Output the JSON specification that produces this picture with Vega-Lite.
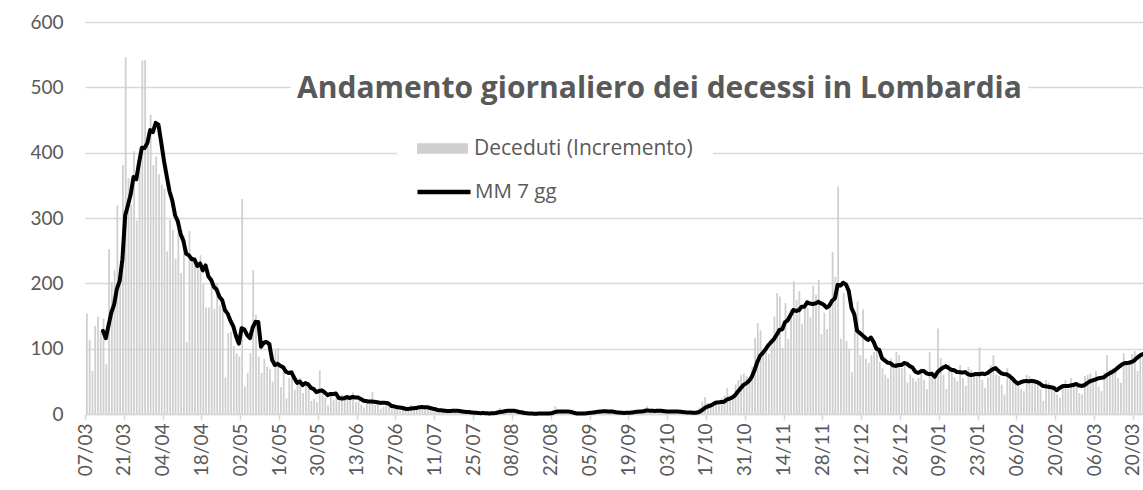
{
  "$schema": "https://vega.github.io/schema/vega-lite/v6.json",
  "autosize": "none",
  "width": 1059,
  "height": 392,
  "padding": {"left": 85, "top": 22, "right": 0, "bottom": 76},
  "background": "#ffffff",
  "config": {
    "view": {"stroke": null},
    "font": "Lato",
    "axis": {"labelFont": "Lato", "labelColor": "#595959", "labelFontSize": 19, "title": null}
  },
  "data": {"values": [
    {"d":"2020-03-07","v":154},{"d":"2020-03-08","v":113},{"d":"2020-03-09","v":66},{"d":"2020-03-10","v":135},{"d":"2020-03-11","v":149},{"d":"2020-03-12","v":127},
    {"d":"2020-03-13","v":146,"m":127.1},{"d":"2020-03-14","v":76,"m":116.0},{"d":"2020-03-15","v":252,"m":135.9},{"d":"2020-03-16","v":202,"m":155.3},{"d":"2020-03-17","v":220,"m":167.4},{"d":"2020-03-18","v":319,"m":191.7},{"d":"2020-03-19","v":209,"m":203.4},{"d":"2020-03-20","v":381,"m":237.0},{"d":"2020-03-21","v":546,"m":304.1},{"d":"2020-03-22","v":361,"m":319.7},{"d":"2020-03-23","v":320,"m":336.6},{"d":"2020-03-24","v":402,"m":362.6},{"d":"2020-03-25","v":296,"m":359.3},{"d":"2020-03-26","v":387,"m":384.7},{"d":"2020-03-27","v":541,"m":407.6},{"d":"2020-03-28","v":542,"m":407.0},{"d":"2020-03-29","v":416,"m":414.9},{"d":"2020-03-30","v":458,"m":434.6},{"d":"2020-03-31","v":381,"m":431.6},
    {"d":"2020-04-01","v":394,"m":445.6},{"d":"2020-04-02","v":367,"m":442.7},{"d":"2020-04-03","v":351,"m":415.6},{"d":"2020-04-04","v":345,"m":387.4},{"d":"2020-04-05","v":249,"m":363.6},{"d":"2020-04-06","v":297,"m":340.6},{"d":"2020-04-07","v":282,"m":326.4},{"d":"2020-04-08","v":238,"m":304.1},{"d":"2020-04-09","v":300,"m":294.6},{"d":"2020-04-10","v":216,"m":275.3},{"d":"2020-04-11","v":273,"m":265.0},{"d":"2020-04-12","v":110,"m":245.1},{"d":"2020-04-13","v":280,"m":242.7},{"d":"2020-04-14","v":241,"m":236.9},{"d":"2020-04-15","v":235,"m":236.4},{"d":"2020-04-16","v":231,"m":226.6},{"d":"2020-04-17","v":243,"m":230.4},{"d":"2020-04-18","v":199,"m":219.9},{"d":"2020-04-19","v":163,"m":227.4},{"d":"2020-04-20","v":163,"m":210.7},{"d":"2020-04-21","v":203,"m":205.3},{"d":"2020-04-22","v":161,"m":194.7},{"d":"2020-04-23","v":200,"m":190.3},{"d":"2020-04-24","v":166,"m":179.3},{"d":"2020-04-25","v":163,"m":174.1},{"d":"2020-04-26","v":56,"m":158.9},{"d":"2020-04-27","v":124,"m":153.3},{"d":"2020-04-28","v":126,"m":142.3},{"d":"2020-04-29","v":104,"m":134.1},{"d":"2020-04-30","v":93,"m":118.9},
    {"d":"2020-05-01","v":88,"m":107.7},{"d":"2020-05-02","v":329,"m":131.4},{"d":"2020-05-03","v":42,"m":129.4},{"d":"2020-05-04","v":63,"m":120.7},{"d":"2020-05-05","v":93,"m":116.0},{"d":"2020-05-06","v":220,"m":132.6},{"d":"2020-05-07","v":152,"m":141.0},{"d":"2020-05-08","v":88,"m":141.0},{"d":"2020-05-09","v":63,"m":103.0},{"d":"2020-05-10","v":84,"m":109.0},{"d":"2020-05-11","v":72,"m":110.3},{"d":"2020-05-12","v":69,"m":106.9},{"d":"2020-05-13","v":50,"m":82.6},{"d":"2020-05-14","v":98,"m":74.9},{"d":"2020-05-15","v":101,"m":76.7},{"d":"2020-05-16","v":41,"m":73.6},{"d":"2020-05-17","v":70,"m":71.6},{"d":"2020-05-18","v":24,"m":64.7},{"d":"2020-05-19","v":55,"m":62.7},{"d":"2020-05-20","v":57,"m":63.7},{"d":"2020-05-21","v":37,"m":55.0},{"d":"2020-05-22","v":50,"m":47.7},{"d":"2020-05-23","v":55,"m":49.7},{"d":"2020-05-24","v":32,"m":44.3},{"d":"2020-05-25","v":46,"m":47.4},{"d":"2020-05-26","v":41,"m":45.4},{"d":"2020-05-27","v":20,"m":40.1},{"d":"2020-05-28","v":23,"m":38.1},{"d":"2020-05-29","v":18,"m":33.6},{"d":"2020-05-30","v":67,"m":35.3},{"d":"2020-05-31","v":37,"m":36.0},
    {"d":"2020-06-01","v":25,"m":33.0},{"d":"2020-06-02","v":13,"m":29.0},{"d":"2020-06-03","v":32,"m":30.7},{"d":"2020-06-04","v":21,"m":30.4},{"d":"2020-06-05","v":24,"m":31.3},{"d":"2020-06-06","v":20,"m":24.6},{"d":"2020-06-07","v":30,"m":23.6},{"d":"2020-06-08","v":28,"m":24.0},{"d":"2020-06-09","v":26,"m":25.9},{"d":"2020-06-10","v":22,"m":24.4},{"d":"2020-06-11","v":33,"m":26.1},{"d":"2020-06-12","v":18,"m":25.3},{"d":"2020-06-13","v":20,"m":25.3},{"d":"2020-06-14","v":14,"m":23.0},{"d":"2020-06-15","v":10,"m":20.4},{"d":"2020-06-16","v":21,"m":19.7},{"d":"2020-06-17","v":17,"m":19.0},{"d":"2020-06-18","v":34,"m":19.1},{"d":"2020-06-19","v":14,"m":18.6},{"d":"2020-06-20","v":15,"m":17.9},{"d":"2020-06-21","v":8,"m":17.0},{"d":"2020-06-22","v":11,"m":17.1},{"d":"2020-06-23","v":20,"m":17.0},{"d":"2020-06-24","v":10,"m":16.0},{"d":"2020-06-25","v":8,"m":12.3},{"d":"2020-06-26","v":9,"m":11.6},{"d":"2020-06-27","v":7,"m":10.4},{"d":"2020-06-28","v":5,"m":10.0},{"d":"2020-06-29","v":6,"m":9.3},{"d":"2020-06-30","v":11,"m":8.0},
    {"d":"2020-07-01","v":7,"m":7.6},{"d":"2020-07-02","v":14,"m":8.4},{"d":"2020-07-03","v":12,"m":8.9},{"d":"2020-07-04","v":9,"m":9.1},{"d":"2020-07-05","v":13,"m":10.3},{"d":"2020-07-06","v":8,"m":10.6},{"d":"2020-07-07","v":10,"m":10.4},{"d":"2020-07-08","v":7,"m":10.4},{"d":"2020-07-09","v":5,"m":9.1},{"d":"2020-07-10","v":4,"m":8.0},{"d":"2020-07-11","v":3,"m":7.1},{"d":"2020-07-12","v":2,"m":5.6},{"d":"2020-07-13","v":8,"m":5.6},{"d":"2020-07-14","v":6,"m":5.0},{"d":"2020-07-15","v":5,"m":4.7},{"d":"2020-07-16","v":4,"m":4.6},{"d":"2020-07-17","v":6,"m":4.9},{"d":"2020-07-18","v":3,"m":4.9},{"d":"2020-07-19","v":2,"m":4.9},{"d":"2020-07-20","v":4,"m":4.3},{"d":"2020-07-21","v":1,"m":3.6},{"d":"2020-07-22","v":2,"m":3.1},{"d":"2020-07-23","v":3,"m":3.0},{"d":"2020-07-24","v":1,"m":2.3},{"d":"2020-07-25","v":0,"m":1.9},{"d":"2020-07-26","v":1,"m":1.7},{"d":"2020-07-27","v":1,"m":1.3},{"d":"2020-07-28","v":2,"m":1.4},{"d":"2020-07-29","v":1,"m":1.3},{"d":"2020-07-30","v":0,"m":0.9},{"d":"2020-07-31","v":2,"m":1.0},
    {"d":"2020-08-01","v":1,"m":1.1},{"d":"2020-08-02","v":6,"m":1.9},{"d":"2020-08-03","v":9,"m":3.0},{"d":"2020-08-04","v":5,"m":3.4},{"d":"2020-08-05","v":7,"m":4.3},{"d":"2020-08-06","v":4,"m":4.9},{"d":"2020-08-07","v":3,"m":5.0},{"d":"2020-08-08","v":2,"m":5.1},{"d":"2020-08-09","v":1,"m":4.4},{"d":"2020-08-10","v":0,"m":3.1},{"d":"2020-08-11","v":1,"m":2.6},{"d":"2020-08-12","v":0,"m":1.6},{"d":"2020-08-13","v":1,"m":1.1},{"d":"2020-08-14","v":0,"m":0.7},{"d":"2020-08-15","v":1,"m":0.6},{"d":"2020-08-16","v":0,"m":0.4},{"d":"2020-08-17","v":1,"m":0.6},{"d":"2020-08-18","v":1,"m":0.6},{"d":"2020-08-19","v":0,"m":0.6},{"d":"2020-08-20","v":2,"m":0.7},{"d":"2020-08-21","v":1,"m":0.9},{"d":"2020-08-22","v":4,"m":1.3},{"d":"2020-08-23","v":12,"m":3.0},{"d":"2020-08-24","v":6,"m":3.7},{"d":"2020-08-25","v":2,"m":3.9},{"d":"2020-08-26","v":1,"m":4.0},{"d":"2020-08-27","v":0,"m":3.7},{"d":"2020-08-28","v":1,"m":3.7},{"d":"2020-08-29","v":0,"m":3.1},{"d":"2020-08-30","v":1,"m":1.6},{"d":"2020-08-31","v":0,"m":0.7},
    {"d":"2020-09-01","v":1,"m":0.6},{"d":"2020-09-02","v":2,"m":0.7},{"d":"2020-09-03","v":1,"m":0.9},{"d":"2020-09-04","v":5,"m":1.4},{"d":"2020-09-05","v":4,"m":2.0},{"d":"2020-09-06","v":3,"m":2.3},{"d":"2020-09-07","v":6,"m":3.1},{"d":"2020-09-08","v":4,"m":3.6},{"d":"2020-09-09","v":5,"m":4.0},{"d":"2020-09-10","v":3,"m":4.3},{"d":"2020-09-11","v":2,"m":3.9},{"d":"2020-09-12","v":4,"m":3.9},{"d":"2020-09-13","v":1,"m":3.6},{"d":"2020-09-14","v":0,"m":2.7},{"d":"2020-09-15","v":1,"m":2.3},{"d":"2020-09-16","v":2,"m":1.9},{"d":"2020-09-17","v":1,"m":1.6},{"d":"2020-09-18","v":4,"m":1.9},{"d":"2020-09-19","v":5,"m":2.0},{"d":"2020-09-20","v":3,"m":2.3},{"d":"2020-09-21","v":6,"m":3.1},{"d":"2020-09-22","v":4,"m":3.6},{"d":"2020-09-23","v":3,"m":3.7},{"d":"2020-09-24","v":5,"m":4.3},{"d":"2020-09-25","v":12,"m":5.4},{"d":"2020-09-26","v":3,"m":5.1},{"d":"2020-09-27","v":2,"m":5.0},{"d":"2020-09-28","v":4,"m":4.7},{"d":"2020-09-29","v":5,"m":4.9},{"d":"2020-09-30","v":3,"m":4.9},
    {"d":"2020-10-01","v":4,"m":4.7},{"d":"2020-10-02","v":6,"m":3.9},{"d":"2020-10-03","v":3,"m":3.9},{"d":"2020-10-04","v":2,"m":3.9},{"d":"2020-10-05","v":5,"m":4.0},{"d":"2020-10-06","v":3,"m":3.7},{"d":"2020-10-07","v":2,"m":3.6},{"d":"2020-10-08","v":1,"m":3.1},{"d":"2020-10-09","v":2,"m":2.6},{"d":"2020-10-10","v":1,"m":2.3},{"d":"2020-10-11","v":2,"m":2.3},{"d":"2020-10-12","v":1,"m":1.7},{"d":"2020-10-13","v":4,"m":1.9},{"d":"2020-10-14","v":10,"m":3.0},{"d":"2020-10-15","v":19,"m":5.6},{"d":"2020-10-16","v":26,"m":9.0},{"d":"2020-10-17","v":17,"m":11.3},{"d":"2020-10-18","v":12,"m":12.7},{"d":"2020-10-19","v":16,"m":14.9},{"d":"2020-10-20","v":21,"m":17.3},{"d":"2020-10-21","v":13,"m":17.7},{"d":"2020-10-22","v":24,"m":18.4},{"d":"2020-10-23","v":28,"m":18.7},{"d":"2020-10-24","v":40,"m":22.0},{"d":"2020-10-25","v":22,"m":23.4},{"d":"2020-10-26","v":29,"m":25.3},{"d":"2020-10-27","v":45,"m":28.7},{"d":"2020-10-28","v":52,"m":34.3},{"d":"2020-10-29","v":60,"m":39.4},{"d":"2020-10-30","v":62,"m":44.3},{"d":"2020-10-31","v":58,"m":46.9},
    {"d":"2020-11-01","v":48,"m":50.6},{"d":"2020-11-02","v":72,"m":56.7},{"d":"2020-11-03","v":116,"m":66.9},{"d":"2020-11-04","v":139,"m":79.3},{"d":"2020-11-05","v":128,"m":89.0},{"d":"2020-11-06","v":95,"m":93.7},{"d":"2020-11-07","v":95,"m":99.0},{"d":"2020-11-08","v":92,"m":105.3},{"d":"2020-11-09","v":105,"m":110.0},{"d":"2020-11-10","v":149,"m":114.7},{"d":"2020-11-11","v":185,"m":121.3},{"d":"2020-11-12","v":180,"m":128.7},{"d":"2020-11-13","v":101,"m":129.6},{"d":"2020-11-14","v":170,"m":140.3},{"d":"2020-11-15","v":115,"m":143.6},{"d":"2020-11-16","v":160,"m":151.4},{"d":"2020-11-17","v":203,"m":159.1},{"d":"2020-11-18","v":175,"m":157.7},{"d":"2020-11-19","v":188,"m":158.9},{"d":"2020-11-20","v":138,"m":164.1},{"d":"2020-11-21","v":170,"m":164.1},{"d":"2020-11-22","v":162,"m":170.9},{"d":"2020-11-23","v":148,"m":169.1},{"d":"2020-11-24","v":196,"m":168.1},{"d":"2020-11-25","v":183,"m":169.3},{"d":"2020-11-26","v":205,"m":171.7},{"d":"2020-11-27","v":122,"m":169.4},{"d":"2020-11-28","v":155,"m":167.3},{"d":"2020-11-29","v":130,"m":162.7},{"d":"2020-11-30","v":170,"m":165.9},
    {"d":"2020-12-01","v":248,"m":173.3},{"d":"2020-12-02","v":210,"m":177.1},{"d":"2020-12-03","v":348,"m":197.6},{"d":"2020-12-04","v":115,"m":196.6},{"d":"2020-12-05","v":185,"m":200.9},{"d":"2020-12-06","v":112,"m":198.3},{"d":"2020-12-07","v":100,"m":188.3},{"d":"2020-12-08","v":64,"m":162.0},{"d":"2020-12-09","v":144,"m":152.6},{"d":"2020-12-10","v":172,"m":127.4},{"d":"2020-12-11","v":90,"m":123.9},{"d":"2020-12-12","v":160,"m":120.3},{"d":"2020-12-13","v":85,"m":116.4},{"d":"2020-12-14","v":78,"m":113.3},{"d":"2020-12-15","v":90,"m":117.0},{"d":"2020-12-16","v":95,"m":110.0},{"d":"2020-12-17","v":100,"m":99.7},{"d":"2020-12-18","v":80,"m":98.3},{"d":"2020-12-19","v":70,"m":85.4},{"d":"2020-12-20","v":60,"m":81.9},{"d":"2020-12-21","v":55,"m":78.6},{"d":"2020-12-22","v":85,"m":77.9},{"d":"2020-12-23","v":70,"m":74.3},{"d":"2020-12-24","v":95,"m":73.6},{"d":"2020-12-25","v":90,"m":75.0},{"d":"2020-12-26","v":70,"m":75.0},{"d":"2020-12-27","v":80,"m":77.9},{"d":"2020-12-28","v":48,"m":76.9},{"d":"2020-12-29","v":60,"m":73.3},{"d":"2020-12-30","v":55,"m":71.1},{"d":"2020-12-31","v":50,"m":64.7},
    {"d":"2021-01-01","v":55,"m":63.0},{"d":"2021-01-02","v":70,"m":65.3},{"d":"2021-01-03","v":52,"m":66.0},{"d":"2021-01-04","v":38,"m":62.4},{"d":"2021-01-05","v":95,"m":61.0},{"d":"2021-01-06","v":60,"m":61.6},{"d":"2021-01-07","v":57,"m":57.0},{"d":"2021-01-08","v":131,"m":64.0},{"d":"2021-01-09","v":86,"m":68.0},{"d":"2021-01-10","v":60,"m":71.0},{"d":"2021-01-11","v":38,"m":73.1},{"d":"2021-01-12","v":76,"m":70.4},{"d":"2021-01-13","v":70,"m":67.6},{"d":"2021-01-14","v":56,"m":67.0},{"d":"2021-01-15","v":50,"m":64.3},{"d":"2021-01-16","v":75,"m":64.0},{"d":"2021-01-17","v":55,"m":63.4},{"d":"2021-01-18","v":43,"m":64.1},{"d":"2021-01-19","v":72,"m":61.0},{"d":"2021-01-20","v":68,"m":59.6},{"d":"2021-01-21","v":64,"m":60.3},{"d":"2021-01-22","v":58,"m":61.4},{"d":"2021-01-23","v":102,"m":60.7},{"d":"2021-01-24","v":52,"m":61.9},{"d":"2021-01-25","v":40,"m":61.0},{"d":"2021-01-26","v":56,"m":62.7},{"d":"2021-01-27","v":75,"m":65.9},{"d":"2021-01-28","v":90,"m":68.6},{"d":"2021-01-29","v":60,"m":70.1},{"d":"2021-01-30","v":58,"m":66.0},{"d":"2021-01-31","v":45,"m":62.3},
    {"d":"2021-02-01","v":30,"m":61.1},{"d":"2021-02-02","v":70,"m":60.7},{"d":"2021-02-03","v":62,"m":58.0},{"d":"2021-02-04","v":55,"m":54.3},{"d":"2021-02-05","v":48,"m":49.7},{"d":"2021-02-06","v":42,"m":46.4},{"d":"2021-02-07","v":38,"m":48.6},{"d":"2021-02-08","v":35,"m":50.1},{"d":"2021-02-09","v":60,"m":50.4},{"d":"2021-02-10","v":58,"m":50.0},{"d":"2021-02-11","v":54,"m":50.6},{"d":"2021-02-12","v":51,"m":49.9},{"d":"2021-02-13","v":45,"m":48.7},{"d":"2021-02-14","v":38,"m":46.3},{"d":"2021-02-15","v":20,"m":43.0},{"d":"2021-02-16","v":52,"m":42.4},{"d":"2021-02-17","v":48,"m":41.6},{"d":"2021-02-18","v":42,"m":40.9},{"d":"2021-02-19","v":40,"m":40.0},{"d":"2021-02-20","v":30,"m":36.4},{"d":"2021-02-21","v":25,"m":39.7},{"d":"2021-02-22","v":45,"m":42.3},{"d":"2021-02-23","v":52,"m":43.0},{"d":"2021-02-24","v":38,"m":42.7},{"d":"2021-02-25","v":55,"m":43.6},{"d":"2021-02-26","v":48,"m":44.4},{"d":"2021-02-27","v":44,"m":45.9},{"d":"2021-02-28","v":32,"m":43.6},
    {"d":"2021-03-01","v":30,"m":43.0},{"d":"2021-03-02","v":58,"m":44.1},{"d":"2021-03-03","v":60,"m":47.3},{"d":"2021-03-04","v":62,"m":50.1},{"d":"2021-03-05","v":48,"m":51.4},{"d":"2021-03-06","v":66,"m":52.9},{"d":"2021-03-07","v":42,"m":54.6},{"d":"2021-03-08","v":35,"m":55.3},{"d":"2021-03-09","v":64,"m":56.1},{"d":"2021-03-10","v":90,"m":59.4},{"d":"2021-03-11","v":68,"m":62.0},{"d":"2021-03-12","v":70,"m":64.3},{"d":"2021-03-13","v":68,"m":67.0},{"d":"2021-03-14","v":55,"m":70.6},{"d":"2021-03-15","v":48,"m":74.0},{"d":"2021-03-16","v":93,"m":77.1},{"d":"2021-03-17","v":80,"m":78.0},{"d":"2021-03-18","v":75,"m":78.3},{"d":"2021-03-19","v":92,"m":79.6},{"d":"2021-03-20","v":96,"m":82.0},{"d":"2021-03-21","v":66,"m":86.0},{"d":"2021-03-22","v":93,"m":89.3},{"d":"2021-03-23","v":91,"m":91.6}
  ]},
  "layer": [
    {
      "mark": {"type": "bar", "timeUnitBandSize": 0.9},
      "encoding": {
        "x": {
          "field": "d", "type": "temporal", "timeUnit": "utcyearmonthdate",
          "scale": {"domain": [{"year": 2020, "month": 3, "date": 7, "utc": true}, {"year": 2021, "month": 3, "date": 24, "utc": true}]},
          "axis": {
            "values": [
              {"year": 2020, "month": 3, "date": 7, "utc": true}, {"year": 2020, "month": 3, "date": 21, "utc": true},
              {"year": 2020, "month": 4, "date": 4, "utc": true}, {"year": 2020, "month": 4, "date": 18, "utc": true},
              {"year": 2020, "month": 5, "date": 2, "utc": true}, {"year": 2020, "month": 5, "date": 16, "utc": true},
              {"year": 2020, "month": 5, "date": 30, "utc": true}, {"year": 2020, "month": 6, "date": 13, "utc": true},
              {"year": 2020, "month": 6, "date": 27, "utc": true}, {"year": 2020, "month": 7, "date": 11, "utc": true},
              {"year": 2020, "month": 7, "date": 25, "utc": true}, {"year": 2020, "month": 8, "date": 8, "utc": true},
              {"year": 2020, "month": 8, "date": 22, "utc": true}, {"year": 2020, "month": 9, "date": 5, "utc": true},
              {"year": 2020, "month": 9, "date": 19, "utc": true}, {"year": 2020, "month": 10, "date": 3, "utc": true},
              {"year": 2020, "month": 10, "date": 17, "utc": true}, {"year": 2020, "month": 10, "date": 31, "utc": true},
              {"year": 2020, "month": 11, "date": 14, "utc": true}, {"year": 2020, "month": 11, "date": 28, "utc": true},
              {"year": 2020, "month": 12, "date": 12, "utc": true}, {"year": 2020, "month": 12, "date": 26, "utc": true},
              {"year": 2021, "month": 1, "date": 9, "utc": true}, {"year": 2021, "month": 1, "date": 23, "utc": true},
              {"year": 2021, "month": 2, "date": 6, "utc": true}, {"year": 2021, "month": 2, "date": 20, "utc": true},
              {"year": 2021, "month": 3, "date": 6, "utc": true}, {"year": 2021, "month": 3, "date": 20, "utc": true}
            ],
            "tickCount": 60,
            "labelExpr": "utcFormat(datum.value, '%d/%m')",
            "labelAngle": 270, "labelAlign": "right", "labelBaseline": "middle", "labelPadding": 3,
            "labelFlush": false, "labelOverlap": false, "labelBound": false, "grid": false,
            "domainColor": "#d9d9d9", "domainWidth": 1.5,
            "tickColor": "#d9d9d9", "tickSize": 6, "tickWidth": 1.5,
            "title": null
          }
        },
        "y": {
          "field": "v", "type": "quantitative",
          "scale": {"domain": [0, 600], "nice": false},
          "axis": {
            "values": [0, 100, 200, 300, 400, 500, 600],
            "domain": false, "ticks": false, "grid": true,
            "gridColor": "#d9d9d9", "gridWidth": 1.5,
            "labelPadding": 22, "title": null
          }
        },
        "color": {
          "datum": "Deceduti (Incremento)", "type": "nominal",
          "scale": {"range": ["#d0cece"]},
          "legend": {
            "orient": "none", "legendX": 312, "legendY": 81, "title": null,
            "padding": 20, "fillColor": "#ffffff",
            "symbolType": "M-1,-0.21H1V0.21H-1Z", "symbolSize": 2601, "symbolStrokeWidth": 0,
            "labelFont": "Open Sans", "labelFontSize": 21, "labelColor": "#595959", "labelLimit": 400, "labelOffset": 6
          }
        }
      }
    },
    {
      "mark": {"type": "line", "strokeWidth": 4, "strokeJoin": "round", "strokeCap": "round"},
      "encoding": {
        "x": {"field": "d", "type": "temporal", "timeUnit": "utcyearmonthdate", "bandPosition": 0.5},
        "y": {"field": "m", "type": "quantitative"},
        "stroke": {
          "datum": "MM 7 gg", "type": "nominal",
          "scale": {"range": ["#000000"]},
          "legend": {
            "orient": "none", "legendX": 330, "legendY": 141, "title": null,
            "padding": 0,
            "symbolType": "stroke", "symbolSize": 2809, "symbolStrokeWidth": 4.5,
            "labelFont": "Open Sans", "labelFontSize": 20.5, "labelColor": "#595959", "labelLimit": 400, "labelOffset": 2
          }
        },
        "strokeDash": {
          "datum": "t", "type": "nominal",
          "scale": {"range": [[1, 0]]},
          "legend": {
            "orient": "none", "legendX": 206, "legendY": 46,
            "title": "Andamento giornaliero dei decessi in Lombardia",
            "titleFont": "Open Sans", "titleFontSize": 30, "titleFontWeight": "bold", "titleColor": "#595959",
            "titleLimit": 1000, "titlePadding": 0,
            "padding": 6, "fillColor": "#ffffff",
            "symbolSize": 0, "symbolStrokeWidth": 0, "symbolOpacity": 0,
            "labelExpr": "''", "labelFontSize": 1, "labelOpacity": 0, "labelLimit": 1, "rowPadding": 0
          }
        }
      }
    }
  ]
}
